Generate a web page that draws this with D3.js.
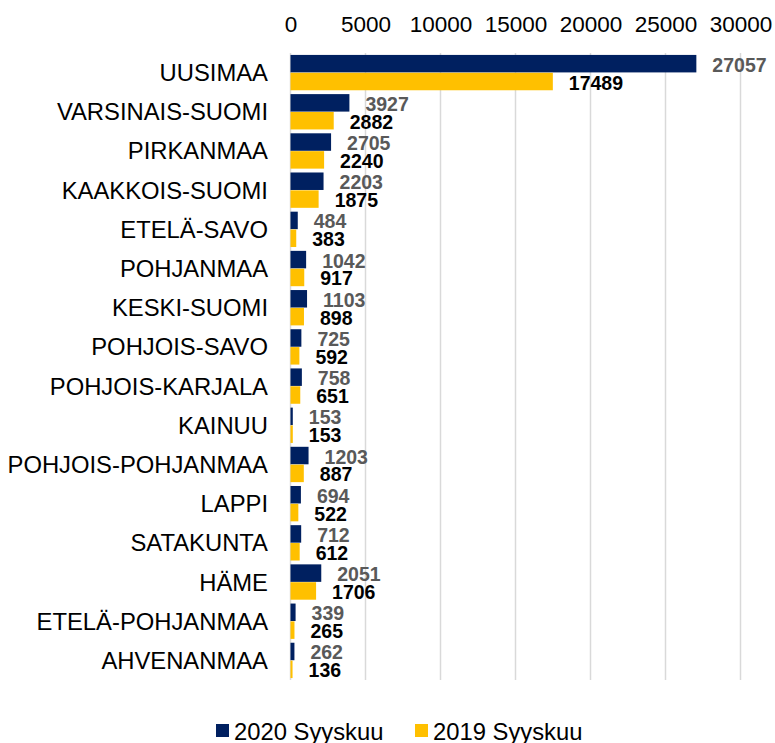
<!DOCTYPE html>
<html lang="en">
<head>
<meta charset="utf-8">
<title>Syyskuu 2020 / 2019</title>
<script src="https://cdn.jsdelivr.net/npm/d3@7"></script>
<style>
  body { margin: 0; background: #fff; }
  text { font-family: "Liberation Sans", Arial, sans-serif; }
</style>
</head>
<body>
<svg id="chart" width="775" height="743"></svg>
<script>
// regions, top to bottom
var regions = ["UUSIMAA", "VARSINAIS-SUOMI", "PIRKANMAA", "KAAKKOIS-SUOMI", "ETELÄ-SAVO",
  "POHJANMAA", "KESKI-SUOMI", "POHJOIS-SAVO", "POHJOIS-KARJALA", "KAINUU",
  "POHJOIS-POHJANMAA", "LAPPI", "SATAKUNTA", "HÄME", "ETELÄ-POHJANMAA", "AHVENANMAA"];
var sept2020 = [27057, 3927, 2705, 2203, 484, 1042, 1103, 725, 758, 153, 1203, 694, 712, 2051, 339, 262];
var sept2019 = [17489, 2882, 2240, 1875, 383, 917, 898, 592, 651, 153, 887, 522, 612, 1706, 265, 136];
var seriesNames = ["2020 Syyskuu", "2019 Syyskuu"];
var xTicks = [0, 5000, 10000, 15000, 20000, 25000, 30000];

var colors = ["#002060", "#FFC000"];
var labelColors = ["#595959", "#000000"];

var svg = d3.select("#chart");
var plotLeft = 290.5, plotRight = 740.5, plotTop = 53, plotBottom = 680;

var x = d3.scaleLinear().domain([0, 30000]).range([plotLeft, plotRight]);
var y = d3.scaleBand().domain(regions).range([plotTop, plotBottom]).paddingInner(0.08).paddingOuter(0.04);
var ySub = d3.scaleBand().domain([0, 1]).range([0, y.bandwidth()]).padding(0.02);

/** gridlines + top axis labels */
svg.append("g").selectAll("line")
  .data(xTicks).enter().append("line")
  .attr("x1", d => x(d)).attr("x2", d => x(d))
  .attr("y1", plotTop).attr("y2", plotBottom)
  .attr("stroke", "#d9d9d9").attr("stroke-width", 1.5);

var axis = svg.append("g").attr("transform", "translate(0,32)")
  .call(d3.axisTop(x).tickValues(xTicks).tickSize(0).tickPadding(0).tickFormat(d3.format("d")));
axis.select(".domain").remove();
axis.selectAll("text").attr("font-size", 22.5).attr("fill", "#000")
  .attr("font-family", "Liberation Sans, Arial, sans-serif");

/** category labels */
svg.append("g").selectAll("text")
  .data(regions).enter().append("text")
  .attr("x", 268)
  .attr("y", d => y(d) + y.bandwidth() / 2)
  .attr("text-anchor", "end")
  .attr("dominant-baseline", "central")
  .attr("font-size", 23.8)
  .text(d => d);

/** bars */
var rows = regions.map((r, i) => ({ region: r, vals: [sept2020[i], sept2019[i]] }));
var groups = svg.append("g").selectAll("g")
  .data(rows).enter().append("g")
  .attr("transform", d => "translate(0," + y(d.region) + ")");

groups.selectAll("rect")
  .data(d => d.vals).enter().append("rect")
  .attr("x", x(0))
  .attr("y", (d, i) => ySub(i))
  .attr("width", d => x(d) - x(0))
  .attr("height", ySub.bandwidth())
  .attr("fill", (d, i) => colors[i]);

groups.selectAll("text")
  .data(d => d.vals).enter().append("text")
  .attr("x", d => x(d) + 16)
  .attr("y", (d, i) => ySub(i) + ySub.bandwidth() / 2 + 1)
  .attr("dominant-baseline", "central")
  .attr("font-size", 19.5)
  .attr("font-weight", "bold")
  .attr("fill", (d, i) => labelColors[i])
  .text(d => d);

/** legend */
var legendX = [216, 415];
var legend = svg.append("g").selectAll("g")
  .data(seriesNames).enter().append("g")
  .attr("transform", (d, i) => "translate(" + legendX[i] + ",724)");
legend.append("rect").attr("width", 13).attr("height", 13).attr("fill", (d, i) => colors[i]);
legend.append("text").attr("x", 18).attr("y", 7).attr("dominant-baseline", "central")
  .attr("font-size", 23.8).text(d => d);
</script>
</body>
</html>
